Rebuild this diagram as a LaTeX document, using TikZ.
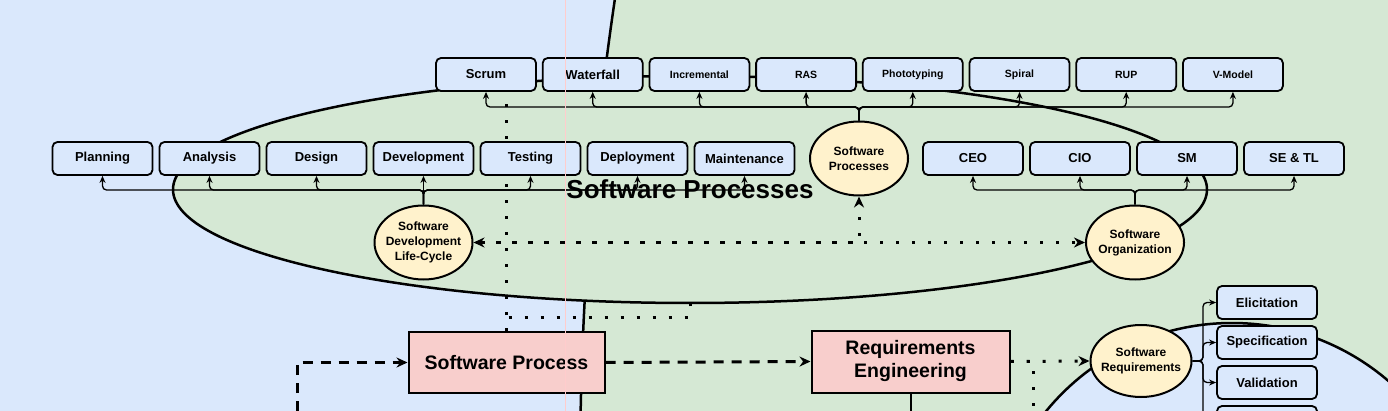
\documentclass[tikz,border=0pt]{standalone}
\usepackage{fontspec}
\setmainfont{Liberation Sans}
\usetikzlibrary{shapes.geometric,arrows.meta,positioning}

\definecolor{bgblue}{HTML}{DAE8FC}
\definecolor{bggreen}{HTML}{D5E8D4}
\definecolor{topicyellow}{HTML}{FFF2CC}
\definecolor{stagepink}{HTML}{F8CECC}

\pgfdeclarelayer{back}
\pgfdeclarelayer{links}
\pgfsetlayers{back,links,main}

\tikzset{
	procbox/.style={draw,line width=1.8pt,rounded corners=5pt,fill=bgblue,minimum width=100pt,minimum height=33pt,inner sep=2pt,font=\bfseries\fontsize{13}{15}\selectfont},
	smallbox/.style={procbox,font=\bfseries\fontsize{10.5}{12}\selectfont},
	topic/.style={ellipse,draw,line width=2pt,fill=topicyellow,minimum width=98pt,minimum height=74pt,inner xsep=-12pt,inner ysep=-8pt,align=center,font=\bfseries\fontsize{12}{15}\selectfont},
	stagebox/.style={draw,line width=2pt,fill=stagepink,align=center,font=\bfseries\fontsize{19.5}{23}\selectfont},
	treeline/.style={->,>={Stealth[length=7pt,width=6pt]},line width=1.3pt,rounded corners=4pt},
	dotline/.style={line width=3pt,dash pattern=on 3pt off 13pt,>={Stealth[length=11pt,width=10pt]}},
	dashline/.style={line width=3pt,dash pattern=on 10pt off 8pt,>={Stealth[length=11pt,width=10pt]}}
}

\begin{document}
\begin{tikzpicture}[x=1pt,y=-1pt]
	\useasboundingbox (0,0) rectangle (1388,411);
	\begin{pgfonlayer}{back}
		\begin{scope}
			\clip (0,0) rectangle (1388,411);
			\fill[bgblue] (0,0) rectangle (1388,411);
			\filldraw[fill=bggreen,line width=2.5pt] (3817,476) circle (3237pt);
			\filldraw[fill=bgblue,line width=2.5pt] (1232,563) circle (240pt);
		\end{scope}
		\node[ellipse,draw,line width=2.5pt,fill=bggreen,minimum width=1034pt,minimum height=227pt,font=\bfseries\fontsize{26}{30}\selectfont](SPell) at (690,189.5){Software Processes};
	\end{pgfonlayer}

	\foreach \i/\s [count=\n] in
		{Scrum/procbox,Waterfall/procbox,Incremental/smallbox,RAS/smallbox,Phototyping/smallbox,Spiral/smallbox,RUP/smallbox,V-Model/smallbox}
		\node[\s](M\n) at ({379.3+\n*106.7},74.5){\i};

	\foreach \i [count=\n] in
		{Planning,Analysis,Design,Development,Testing,Deployment,Maintenance}
		\node[procbox](L\n) at ({-4.5+\n*107},158.5){\i};

	\foreach \i [count=\n] in {CEO,CIO,SM,SE \& TL}
		\node[procbox](R\n) at ({866+\n*107},158.5){\i};

	\foreach \i [count=\n] in {Elicitation,Specification,Validation}
		\node[procbox](Q\n) at (1267,{262.5+\n*40}){\i};
	\node[procbox](Q4) at (1267,422.5){};

	\node[topic](SPc) at (859,158.5){Software\\Processes};
	\node[topic](SDLC) at (423.5,242.5){Software\\Development\\Life-Cycle};
	\node[topic](SO) at (1135,242.5){Software\\Organization};
	\node[topic,minimum width=101pt,minimum height=72pt](SR) at (1141,361){Software\\Requirements};

	\node[stagebox,minimum width=196pt,minimum height=61pt](SP) at (506.5,362.5){Software Process};
	\node[stagebox,minimum width=198pt,minimum height=62pt](RE) at (910.5,361.5){Requirements\\Engineering};

	\coordinate (bus1) at (0,107);
	\coordinate (bus2) at (0,190);
	\coordinate (bus3) at (1203,0);
	\coordinate (inlet) at (297,411);
	\coordinate (drop) at (1033,411);
	\coordinate (down) at (910.5,411);

	\begin{pgfonlayer}{links}
		\foreach \n in {1,...,8}
			\draw[treeline] (SPc.north) -- (SPc.north |- bus1) -| (M\n.south);
		\foreach \n in {1,...,7}
			\draw[treeline] (SDLC.north) -- (SDLC.north |- bus2) -| (L\n.south);
		\foreach \n in {1,...,4}
			\draw[treeline] (SO.north) -- (SO.north |- bus2) -| (R\n.south);
		\foreach \n in {1,...,4}
			\draw[treeline] (SR.east) -- (SR.east -| bus3) |- (Q\n.west);

		\draw[dotline,<->] (SDLC.east) -- (SO.west);
		\draw[dotline,->,dash phase=8pt] (SDLC.east) -| (SPc.south);
		\draw[dotline] (SP.north) -- (SP.north |- M1.south);
		\draw[dotline] (SP.north) -- ++(0,-14) -| (SPell.south);

		\draw[dashline,->] (inlet) |- (SP.west);
		\draw[dashline,->] (SP.east) -- (RE.west);
		\draw[dotline,->] (RE.east) -- (SR.west);
		\draw[dotline] (RE.east) -| (drop);
		\draw[line width=2pt] (RE.south) -- (down);
	\end{pgfonlayer}

	\draw[red!20,line width=0.8pt] (565,0) -- (565,411);
\end{tikzpicture}
\end{document}
